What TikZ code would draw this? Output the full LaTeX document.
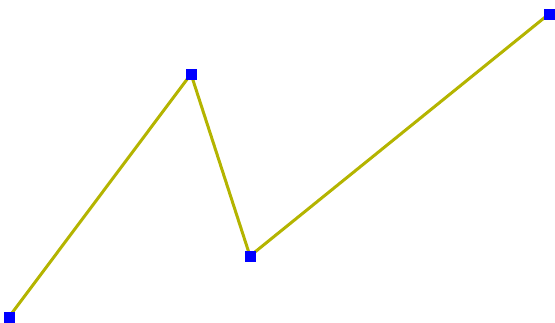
\documentclass[tikz,border=0pt]{standalone}
\usepackage{tikz}
\usetikzlibrary{backgrounds}
\definecolor{linecolor}{RGB}{180, 180, 0}
\definecolor{pointcolor}{RGB}{0, 0, 255}

\begin{document}
\begin{tikzpicture}[x=1pt, y=-1pt,
    vertex/.style={draw=none, fill=pointcolor, minimum size=11pt, inner sep=0pt}]
\useasboundingbox (0,0) rectangle (555,322);
\node[vertex] (p1) at (9,317) {};
\node[vertex] (p2) at (191,74) {};
\node[vertex] (p3) at (250,256) {};
\node[vertex] (p4) at (549,14) {};
\begin{scope}[on background layer]
\draw[linecolor, line width=3pt] (p1.center) -- (p2.center) -- (p3.center) -- (p4.center);
\end{scope}
\end{tikzpicture}
\end{document}
